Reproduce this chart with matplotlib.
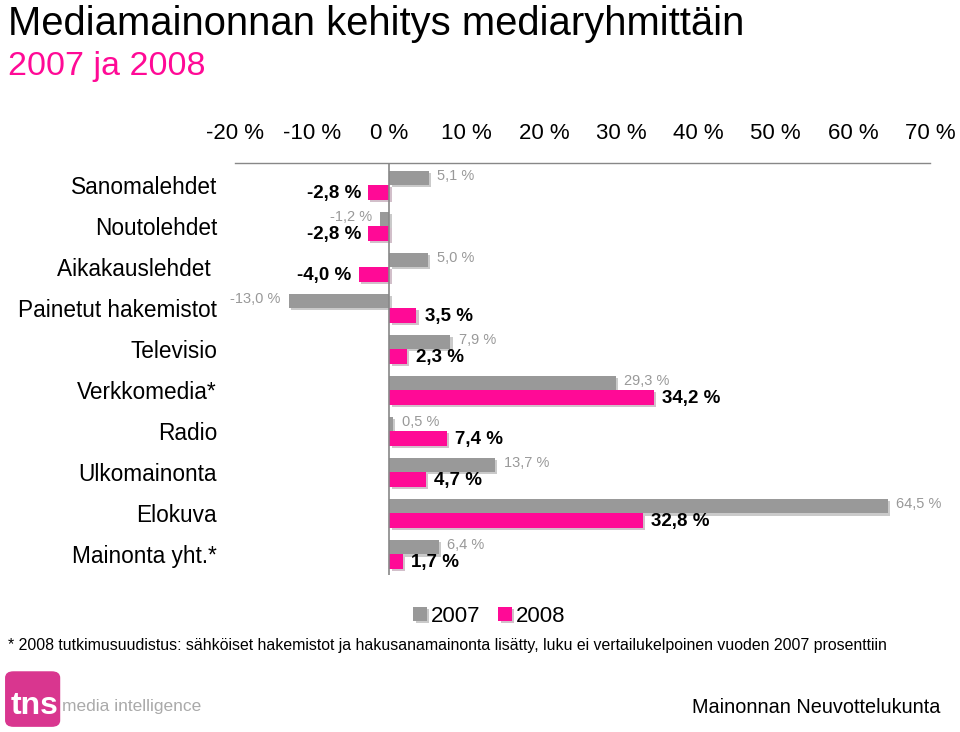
import matplotlib.pyplot as plt
import matplotlib.patheffects as pe
from matplotlib.patches import FancyBboxPatch
import numpy as np

plt.rcParams['font.family'] = ['Liberation Sans', 'DejaVu Sans']

categories = ['Sanomalehdet', 'Noutolehdet', 'Aikakauslehdet ', 'Painetut hakemistot',
              'Televisio', 'Verkkomedia*', 'Radio', 'Ulkomainonta', 'Elokuva', 'Mainonta yht.*']
v2007 = [5.1, -1.2, 5.0, -13.0, 7.9, 29.3, 0.5, 13.7, 64.5, 6.4]
v2008 = [-2.8, -2.8, -4.0, 3.5, 2.3, 34.2, 7.4, 4.7, 32.8, 1.7]
xticks = [-20, -10, 0, 10, 20, 30, 40, 50, 60, 70]

grey = '#999999'
pink = '#ff0a96'

fig = plt.figure(figsize=(9.6, 7.32), dpi=100)
ax = fig.add_axes([0.2448, 0.2145, 0.724, 0.5628])

y = np.arange(len(categories))
h = 0.355
shadow = [pe.SimplePatchShadow(offset=(1.5, -1.5), alpha=0.25), pe.Normal()]
ax.barh(y - h / 2, v2007, height=h, color=grey, label='2007', path_effects=shadow)
ax.barh(y + h / 2, v2008, height=h, color=pink, label='2008', path_effects=shadow)

def fmt(v):
    return ('%.1f %%' % v).replace('.', ',')

for i, (a, b) in enumerate(zip(v2007, v2008)):
    off = 1.1 if a >= 0 else -1.1
    ax.text(a + off, i - h / 2 - 0.05, fmt(a), ha='left' if a >= 0 else 'right',
            va='center', fontsize=10.5, color=grey)
    off = 1.1 if b >= 0 else -0.9
    ax.text(b + off, i + h / 2 + 0.03, fmt(b), ha='left' if b >= 0 else 'right',
            va='center', fontsize=13.5, fontweight='bold', color='black')

ax.set_xlim(-20, 70)
ax.set_ylim(len(categories) - 0.5, -0.54)
ax.set_xticks(xticks)
ax.set_xticklabels(['%d %%' % t for t in xticks])
ax.xaxis.tick_top()
ax.tick_params(axis='x', length=0, labelsize=16, pad=14)
ax.set_yticks(y)
ax.set_yticklabels(categories)
ax.tick_params(axis='y', length=0, labelsize=16.3, pad=13)
for s in ['right', 'bottom', 'left']:
    ax.spines[s].set_visible(False)
ax.spines['top'].set_color('#888888')
ax.spines['top'].set_linewidth(1)
ax.axvline(0, color='#888888', lw=1.2)

fig.legend(loc='center', bbox_to_anchor=(0.51, 0.158), ncol=2, frameon=False,
           fontsize=16, handlelength=0.6, handleheight=0.6, handletextpad=0.2,
           columnspacing=0.8)

fig.text(0.008, 0.952, 'Mediamainonnan kehitys mediaryhmittäin', fontsize=28.8,
         va='baseline', ha='left')
fig.text(0.008, 0.898, '2007 ja 2008', fontsize=24.5, color=pink, va='baseline', ha='left')
fig.text(0.008, 0.118, '* 2008 tutkimusuudistus: sähköiset hakemistot ja hakusanamainonta '
         'lisätty, luku ei vertailukelpoinen vuoden 2007 prosenttiin', fontsize=11.4,
         va='center', ha='left')

# logo
logo = FancyBboxPatch((0.006, 0.008), 0.056, 0.074, boxstyle='round,pad=0,rounding_size=0.008',
                      transform=fig.transFigure, color='#d9368f', zorder=1)
fig.patches.append(logo)
fig.text(0.011, 0.036, 'tns', fontsize=23, color='white', fontweight='bold',
         va='center', ha='left')
fig.text(0.065, 0.035, 'media intelligence', fontsize=12.5, color='#aaaaaa',
         va='center', ha='left')
fig.text(0.98, 0.033, 'Mainonnan Neuvottelukunta', fontsize=14.3, va='center', ha='right')

fig.savefig('out.png', dpi=100)
